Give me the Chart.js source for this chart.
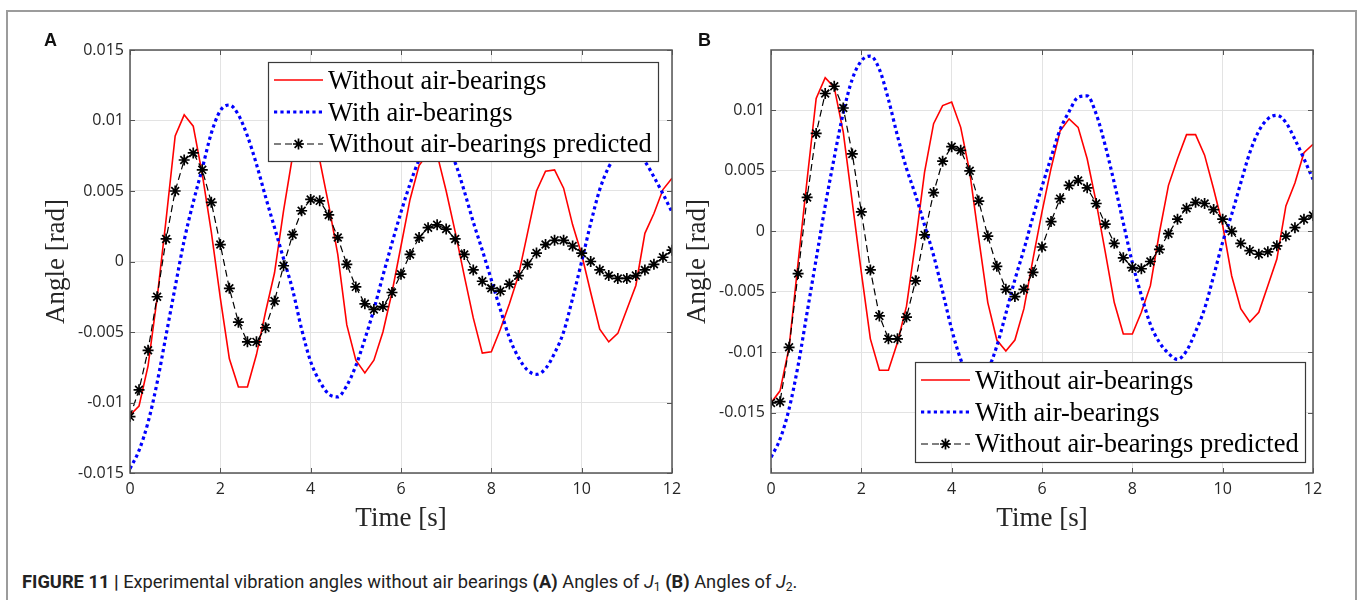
<!DOCTYPE html>
<html>
<head>
<meta charset="utf-8">
<title>Figure 11 - vibration angles</title>
<script src="https://cdn.jsdelivr.net/npm/chart.js@4.4.0/dist/chart.umd.min.js"></script>
<style>
  html, body { margin: 0; padding: 0; background: #fff; }
  body { width: 1358px; height: 600px; position: relative; overflow: hidden; }
  #frame { position: absolute; left: 6px; top: 10px; width: 1351px; height: 640px; box-sizing: border-box; border: 2px solid #9c9c9c; }
  canvas { position: absolute; top: 0; }
  #chartA { left: 0; }
  #chartB { left: 680px; }
  .panel-tag { position: absolute; top: 31px; font: bold 18px "Liberation Sans", Arial, sans-serif; line-height: 18px; color: #111; }
  #caption { position: absolute; left: 22px; top: 573px; white-space: nowrap; font: 18px Roboto, "Liberation Sans", sans-serif; line-height: 18px; color: #222; transform-origin: 0 0; }
  #caption sub { font-size: 12px; line-height: 0; vertical-align: -3px; }
</style>
</head>
<body>
<div id="frame"></div>
<canvas id="chartA" width="700" height="545"></canvas>
<canvas id="chartB" width="678" height="545"></canvas>
<div class="panel-tag" style="left:44px">A</div>
<div class="panel-tag" style="left:698px">B</div>
<div id="caption"><b>FIGURE 11 |</b> Experimental vibration angles without air bearings <b>(A)</b> Angles of <i>J</i><sub>1</sub> <b>(B)</b> Angles of <i>J</i><sub>2</sub>.</div>

<script>
"use strict";

// sample times [s], 0.2 s step
const timeSeconds = [
    0, 0.2, 0.4, 0.6, 0.8, 1, 1.2, 1.4, 1.6, 1.8,
    2, 2.2, 2.4, 2.6, 2.8, 3, 3.2, 3.4, 3.6, 3.8,
    4, 4.2, 4.4, 4.6, 4.8, 5, 5.2, 5.4, 5.6, 5.8,
    6, 6.2, 6.4, 6.6, 6.8, 7, 7.2, 7.4, 7.6, 7.8,
    8, 8.2, 8.4, 8.6, 8.8, 9, 9.2, 9.4, 9.6, 9.8,
    10, 10.2, 10.4, 10.6, 10.8, 11, 11.2, 11.4, 11.6, 11.8,
    12
];

// Panel A - joint J1 angles [rad]
const j1WithoutAir = [
    -0.0109, -0.01025, -0.0074, -0.0026, 0.0030, 0.0089, 0.0104, 0.0096, 0.0062, 0.0021,
    -0.0026, -0.0069, -0.0089, -0.0089, -0.0066, -0.0036, -0.0008, 0.0036, 0.0075, 0.0092,
    0.0094, 0.0072, 0.0040, 0.0005, -0.0045, -0.0070, -0.0079, -0.0070, -0.0050, -0.0022,
    0.0011, 0.0044, 0.0068, 0.0077, 0.0076, 0.0050, 0.0021, -0.0010, -0.0040, -0.0065,
    -0.0064, -0.0048, -0.0030, -0.0010, 0.0020, 0.0050, 0.0064, 0.0065, 0.0052, 0.0026,
    0.0005, -0.0022, -0.0048, -0.0057, -0.0051, -0.0034, -0.0017, 0.0020, 0.0034, 0.0051,
    0.0059
];
const j1WithAir = [
    -0.0147, -0.0134, -0.0114, -0.0086, -0.0052, -0.0018, 0.0015, 0.0042, 0.0066, 0.0091,
    0.0107, 0.0111, 0.0104, 0.0089, 0.0069, 0.0046, 0.0024, 0.0002, -0.0020, -0.0048,
    -0.0071, -0.0085, -0.0094, -0.0096, -0.0088, -0.0074, -0.0055, -0.0034, -0.0010, 0.0013,
    0.0035, 0.0055, 0.0072, 0.0083, 0.0087, 0.0083, 0.0070, 0.0050, 0.0028, 0.0008,
    -0.0013, -0.0034, -0.0054, -0.0068, -0.0077, -0.0080, -0.0076, -0.0065, -0.0050, -0.0026,
    0.0000, 0.0027, 0.0051, 0.0067, 0.0076, 0.0080, 0.0078, 0.0071, 0.0060, 0.0048,
    0.0035
];
const j1Predicted = [
    -0.0110, -0.0091, -0.0063, -0.0025, 0.0016, 0.0050, 0.0072, 0.0077, 0.0065, 0.0042,
    0.0012, -0.0019, -0.0043, -0.0057, -0.0057, -0.0047, -0.0028, -0.0003, 0.0019, 0.0036,
    0.0044, 0.0043, 0.0033, 0.0017, -0.0002, -0.0018, -0.0030, -0.0034, -0.0032, -0.0022,
    -0.0009, 0.0005, 0.0017, 0.0024, 0.0026, 0.0023, 0.0016, 0.0005, -0.0006, -0.0014,
    -0.0019, -0.0021, -0.0016, -0.0010, -0.0002, 0.0006, 0.0012, 0.0015, 0.0015, 0.0011,
    0.0006, 0.0000, -0.0006, -0.0010, -0.0012, -0.0012, -0.0010, -0.0006, -0.0002, 0.0003,
    0.0008
];

// Panel B - joint J2 angles [rad]
const j2WithoutAir = [
    -0.0142, -0.0132, -0.0096, -0.0026, 0.0043, 0.0110, 0.0127, 0.0119, 0.0082, 0.0024,
    -0.0034, -0.0089, -0.0115, -0.0115, -0.0092, -0.0062, -0.0009, 0.0049, 0.0089, 0.0104,
    0.0107, 0.0086, 0.0049, -0.0006, -0.0059, -0.0090, -0.0099, -0.0090, -0.0064, -0.0023,
    0.0016, 0.0052, 0.0083, 0.0093, 0.0086, 0.0060, 0.0024, -0.0017, -0.0059, -0.0085,
    -0.0085, -0.0067, -0.0045, -0.0001, 0.0038, 0.0060, 0.0080, 0.0080, 0.0063, 0.0035,
    0.0005, -0.0037, -0.0064, -0.0075, -0.0067, -0.0045, -0.0023, 0.0021, 0.0040, 0.0065,
    0.0072
];
const j2WithAir = [
    -0.0187, -0.0172, -0.0147, -0.0111, -0.0067, -0.0023, 0.0021, 0.0061, 0.0098, 0.0126,
    0.0141, 0.0145, 0.0134, 0.0109, 0.0079, 0.0052, 0.0030, 0.0005, -0.0020, -0.0050,
    -0.0081, -0.0106, -0.0122, -0.0126, -0.0115, -0.0095, -0.0068, -0.0040, -0.0015, 0.0012,
    0.0037, 0.0061, 0.0084, 0.0099, 0.0111, 0.0112, 0.0097, 0.0071, 0.0040, 0.0007,
    -0.0026, -0.0053, -0.0077, -0.0092, -0.0101, -0.0106, -0.0099, -0.0083, -0.0064, -0.0037,
    -0.0009, 0.0014, 0.0040, 0.0065, 0.0083, 0.0093, 0.0096, 0.0090, 0.0076, 0.0060,
    0.0043
];
const j2Predicted = [
    -0.0142, -0.0141, -0.0096, -0.0035, 0.0028, 0.0081, 0.0114, 0.0120, 0.0102, 0.0064,
    0.0016, -0.0032, -0.0070, -0.0089, -0.0089, -0.0071, -0.0041, -0.0003, 0.0032, 0.0058,
    0.0070, 0.0067, 0.0050, 0.0025, -0.0004, -0.0029, -0.0048, -0.0054, -0.0048, -0.0034,
    -0.0013, 0.0008, 0.0027, 0.0038, 0.0042, 0.0036, 0.0023, 0.0006, -0.0010, -0.0022,
    -0.0030, -0.0031, -0.0025, -0.0015, -0.0002, 0.0010, 0.0019, 0.0024, 0.0023, 0.0018,
    0.0010, 0.0000, -0.0010, -0.0016, -0.0019, -0.0017, -0.0012, -0.0004, 0.0003, 0.0010,
    0.0013
];

const seriesNames = ['Without air-bearings', 'With air-bearings', 'Without air-bearings predicted'];

// axis ticks
const xTickValues = [0, 2, 4, 6, 8, 10, 12];
const xTickLabels = ['0', '2', '4', '6', '8', '10', '12'];
const yTickValuesA = [-0.015, -0.01, -0.005, 0, 0.005, 0.01, 0.015];
const yTickLabelsA = ['-0.015', '-0.01', '-0.005', '0', '0.005', '0.01', '0.015'];
const yTickValuesB = [-0.015, -0.01, -0.005, 0, 0.005, 0.01];
const yTickLabelsB = ['-0.015', '-0.01', '-0.005', '0', '0.005', '0.01'];

const tickFont = { family: '"Open Sans", sans-serif', size: 16 };
const titleFont = { family: '"Liberation Serif", "Times New Roman", serif', size: 27 };
const legendFont = '26.5px "Liberation Serif", "Times New Roman", serif';

// pair the sample times with one series
function toPoints(values) {
    return values.map((v, i) => ({ x: timeSeconds[i], y: v }));
}

// matlab style '*' marker
function drawAsterisk(ctx, x, y, r, lw) {
    ctx.save();
    ctx.lineWidth = lw;
    ctx.strokeStyle = '#000';
    ctx.beginPath();
    const d = r * Math.SQRT1_2;
    ctx.moveTo(x - r, y); ctx.lineTo(x + r, y);
    ctx.moveTo(x, y - r); ctx.lineTo(x, y + r);
    ctx.moveTo(x - d, y - d); ctx.lineTo(x + d, y + d);
    ctx.moveTo(x - d, y + d); ctx.lineTo(x + d, y - d);
    ctx.stroke();
    ctx.restore();
}

// box around the axes with inward tick marks
function drawAxesBox(chart) {
    const { ctx, chartArea: a, scales } = chart;
    ctx.save();
    ctx.strokeStyle = '#555';
    ctx.lineWidth = 1;
    ctx.beginPath();
    scales.x.ticks.forEach(t => {
        const px = Math.round(scales.x.getPixelForValue(t.value)) + 0.5;
        ctx.moveTo(px, a.bottom); ctx.lineTo(px, a.bottom - 5);
        ctx.moveTo(px, a.top); ctx.lineTo(px, a.top + 5);
    });
    scales.y.ticks.forEach(t => {
        const py = Math.round(scales.y.getPixelForValue(t.value)) + 0.5;
        ctx.moveTo(a.left, py); ctx.lineTo(a.left + 5, py);
        ctx.moveTo(a.right, py); ctx.lineTo(a.right - 5, py);
    });
    ctx.stroke();
    ctx.lineWidth = 1.5;
    ctx.strokeRect(a.left, a.top, a.right - a.left, a.bottom - a.top);
    ctx.restore();
}

// legend box drawn inside the plot, styles taken from the datasets
function drawLegendBox(chart, box) {
    const ctx = chart.ctx;
    ctx.save();
    ctx.fillStyle = '#fff';
    ctx.fillRect(box.left, box.top, box.width, box.height);
    ctx.strokeStyle = '#3a3a3a';
    ctx.lineWidth = 1.2;
    ctx.strokeRect(box.left + 0.5, box.top + 0.5, box.width, box.height);
    chart.data.datasets.forEach((ds, i) => {
        const lineY = box.top + 18 + i * 32;
        const baseY = box.top + 27 + i * 31.5;
        ctx.strokeStyle = ds.borderColor;
        ctx.lineWidth = ds.borderWidth;
        ctx.setLineDash(ds.borderDash || []);
        ctx.beginPath();
        ctx.moveTo(box.left + 6, lineY);
        ctx.lineTo(box.left + 55, lineY);
        ctx.stroke();
        ctx.setLineDash([]);
        if (ds.pointStyle === 'star') {
            drawAsterisk(ctx, box.left + 30.5, lineY, ds.pointRadius, ds.pointBorderWidth);
        }
        ctx.fillStyle = '#000';
        ctx.font = legendFont;
        ctx.textBaseline = 'alphabetic';
        ctx.fillText(ds.label, box.left + 60, baseY);
    });
    ctx.restore();
}

const matlabAxes = {
    id: 'matlabAxes',
    afterDatasetsDraw(chart) {
        drawAxesBox(chart);
    },
    afterDraw(chart, args, opts) {
        drawLegendBox(chart, opts.legend);
    }
};

function buildChart(canvasId, series, yTickValues, yTickLabels, yMin, yMax, look) {
    const datasets = [
        { label: seriesNames[0], data: toPoints(series[0]), borderColor: '#ff0000', borderWidth: 1.6,
          pointRadius: 0, tension: 0, order: 3 },
        { label: seriesNames[1], data: toPoints(series[1]), borderColor: '#0000ff', borderWidth: 3.2,
          borderDash: [3.2, 3.2], pointRadius: 0, cubicInterpolationMode: 'monotone', order: 2 },
        { label: seriesNames[2], data: toPoints(series[2]), borderColor: '#000000', borderWidth: 1.2,
          borderDash: [7, 4], pointStyle: 'star', pointRadius: 5.5, pointBorderWidth: 1.7,
          pointBorderColor: '#000', pointBackgroundColor: '#000', order: 1 }
    ];

    return new Chart(document.getElementById(canvasId), {
        type: 'line',
        data: { datasets: datasets },
        plugins: [matlabAxes],
        options: {
            responsive: false,
            animation: false,
            devicePixelRatio: 1,
            layout: { padding: { left: 0, right: look.padRight, top: 50, bottom: 0 } },
            plugins: {
                legend: { display: false },
                tooltip: { enabled: false },
                matlabAxes: { legend: look.legend }
            },
            scales: {
                x: {
                    type: 'linear',
                    min: 0,
                    max: 12,
                    afterBuildTicks: s => { s.ticks = xTickValues.map(v => ({ value: v })); },
                    afterFit: s => { s.height = 72; },
                    ticks: {
                        callback: (v, i) => xTickLabels[i],
                        font: tickFont, color: '#262626', padding: 7, maxRotation: 0
                    },
                    grid: { color: '#e3e3e3', drawTicks: false },
                    border: { display: false },
                    title: { display: true, text: 'Time [s]', font: titleFont, color: '#262626',
                             padding: { top: 0, bottom: 10 } }
                },
                y: {
                    type: 'linear',
                    min: yMin,
                    max: yMax,
                    afterBuildTicks: s => { s.ticks = yTickValues.map(v => ({ value: v })); },
                    afterFit: s => { s.width = look.yAxisWidth; },
                    ticks: {
                        callback: (v, i) => yTickLabels[i],
                        font: tickFont, color: '#262626', padding: 6
                    },
                    grid: { color: '#e3e3e3', drawTicks: false },
                    border: { display: false },
                    title: { display: true, text: 'Angle [rad]', font: titleFont, color: '#262626',
                             padding: { top: look.yTitlePad, bottom: 0 } }
                }
            }
        }
    });
}

buildChart('chartA', [j1WithoutAir, j1WithAir, j1Predicted], yTickValuesA, yTickLabelsA, -0.015, 0.015, {
    padRight: 28, yAxisWidth: 130, yTitlePad: 41,
    legend: { left: 268, top: 62, width: 390, height: 99 }
});

buildChart('chartB', [j2WithoutAir, j2WithAir, j2Predicted], yTickValuesB, yTickLabelsB, -0.02, 0.015, {
    padRight: 45, yAxisWidth: 91, yTitlePad: 2,
    legend: { left: 235, top: 362, width: 390, height: 100 }
});

// squeeze the caption to the width it has in the figure
const caption = document.getElementById('caption');
caption.style.transform = 'scaleX(' + (775 / caption.scrollWidth).toFixed(3) + ')';
</script>
</body>
</html>
